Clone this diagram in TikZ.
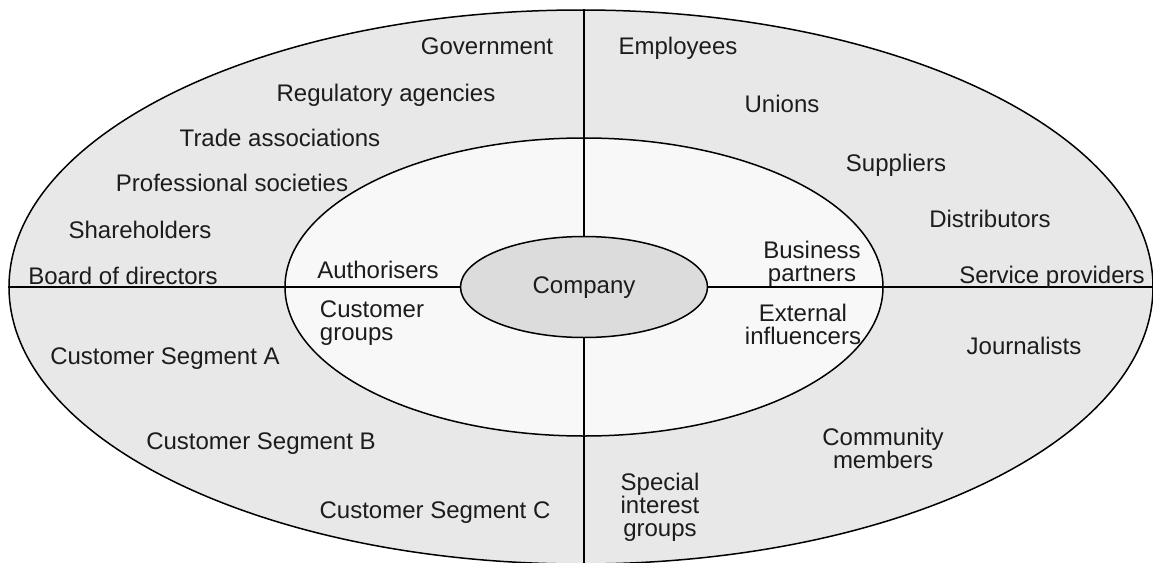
\documentclass[tikz,border=0pt]{standalone}
\usepackage{fontspec}
\setmainfont{Liberation Sans}
\usetikzlibrary{shapes.geometric}

\definecolor{ringgray}{RGB}{232,232,232}
\definecolor{innerfill}{RGB}{248,248,248}
\definecolor{corefill}{RGB}{220,220,220}
\definecolor{inkgray}{RGB}{28,28,28}

\tikzset{
  ring/.style={ellipse, draw=black, line width=1.5pt, inner sep=0pt},
  divider/.style={line width=1.5pt},
  lbl/.style={font=\fontsize{24}{23}\selectfont, text=inkgray, inner sep=0pt,
               text height=17pt, text depth=5pt},
  lblm/.style={font=\fontsize{24}{23}\selectfont, text=inkgray, inner sep=0pt,
               align=center},
}

\begin{document}
\begin{tikzpicture}[x=1pt,y=-1pt]
    \useasboundingbox (0,0) rectangle (1153,562);
    \fill[white] (0,0) rectangle (1153,562);

    % Rings: outer stakeholders, inner groups, company core
    \node[ring, fill=ringgray, minimum width=1144pt, minimum height=554pt] (outer) at (581,287) {};
    \node[ring, fill=innerfill, minimum width=598pt, minimum height=298pt] (inner) at (584,287) {};
    \node[ring, fill=corefill, minimum width=247pt, minimum height=101pt, lbl] (company) at (584,287) {Company};

    % Dividing lines
    \draw[divider] (outer.west) -- (company.west);
    \draw[divider] (company.east) -- (outer.east);
    \draw[divider] (company.north) -- (company.north |- outer.north);
    \draw[divider] (company.south) -- (company.south |- outer.south);

    % Inner ring labels
    \node[lbl] (auth) at (378,272) {Authorisers};
    \node[lblm, align=left] (custgroups) at (372,323) {Customer\\groups};
    \node[lblm] (partners) at (812,264) {Business\\partners};
    \node[lblm] (influencers) at (803,324) {External\\influencers};

    % Outer ring, top left
    \node[lbl] (gov) at (487,48) {Government};
    \node[lbl] (regul) at (386,95) {Regulatory agencies};
    \node[lbl] (trade) at (280,140) {Trade associations};
    \node[lbl] (prof) at (232,185) {Professional societies};
    \node[lbl] (share) at (140,232) {Shareholders};
    \node[lbl] (board) at (123,278) {Board of directors};

    % Outer ring, top right
    \node[lbl] (empl) at (678,48) {Employees};
    \node[lbl] (unions) at (782,106) {Unions};
    \node[lbl] (suppl) at (896,165) {Suppliers};
    \node[lbl] (distr) at (990,221) {Distributors};
    \node[lbl] (service) at (1052,277) {Service providers};

    % Outer ring, bottom left
    \node[lbl] (segA) at (165,358) {Customer Segment A};
    \node[lbl] (segB) at (261,443) {Customer Segment B};
    \node[lbl] (segC) at (435,512) {Customer Segment C};

    % Outer ring, bottom right
    \node[lbl] (journ) at (1024,348) {Journalists};
    \node[lblm] (community) at (883,448) {Community\\members};
    \node[lblm] (special) at (660,507) {Special\\interest\\groups};
\end{tikzpicture}
\end{document}
